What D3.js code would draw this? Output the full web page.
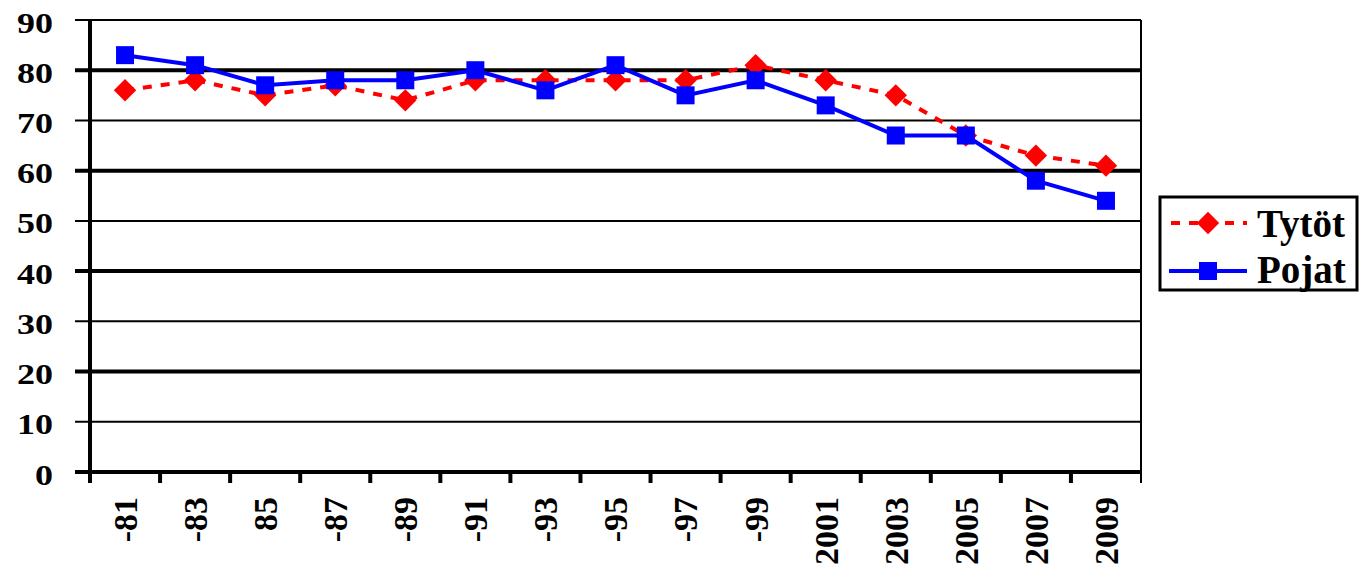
<!DOCTYPE html>
<html>
<head>
<meta charset="utf-8">
<script src="https://cdn.jsdelivr.net/npm/d3@7"></script>
<style>
	body { margin: 0; background: #fff; }
	svg text { font-weight: bold; fill: #000; }
</style>
</head>
<body>
<div id="graph"></div>
<script>
const years = ["-81", "-83", "85", "-87", "-89", "-91", "-93", "-95", "-97", "-99", "2001", "2003", "2005", "2007", "2009"];
const tytot = [76, 78, 75, 77, 74, 78, 78, 78, 78, 81, 78, 75, 67, 63, 61];
const pojat = [83, 81, 77, 78, 78, 80, 76, 81, 75, 78, 73, 67, 67, 58, 54];
const yTicks = [0, 10, 20, 30, 40, 50, 60, 70, 80, 90];

const margin = {top: 20, right: 218, bottom: 99, left: 90},
	width = 1359 - margin.left - margin.right,
	height = 571 - margin.top - margin.bottom;

const svg = d3.select("#graph")
	.append("svg")
	.attr("width", 1359)
	.attr("height", 571)
	.append("g")
	.attr("transform", "translate(" + margin.left + "," + margin.top + ")");

const xScale = d3.scaleBand()
	.domain(years)
	.range([0, width]);

const yScale = d3.scaleLinear()
	.domain([0, 90])
	.range([height, 0]);

const cx = (d, i) => xScale(years[i]) + xScale.bandwidth() / 2;
const serif = "'Times New Roman', 'Liberation Serif', Tinos, Times, serif";

// gridlines, every other one heavier
svg.selectAll(".grid")
	.data(yTicks)
	.enter().append("line")
	.attr("x1", -15)
	.attr("x2", width)
	.attr("y1", d => yScale(d))
	.attr("y2", d => yScale(d))
	.attr("stroke", "#000")
	.attr("stroke-width", d => (d % 20 === 0) ? 4 : 2);

// right border
svg.append("line")
	.attr("x1", width).attr("x2", width)
	.attr("y1", 0).attr("y2", height + 11)
	.attr("stroke", "#000")
	.attr("stroke-width", 2);

// y axis line
svg.append("line")
	.attr("x1", 0).attr("x2", 0)
	.attr("y1", 0).attr("y2", height + 11)
	.attr("stroke", "#000")
	.attr("stroke-width", 4);

// x ticks at band edges
svg.selectAll(".xtick")
	.data(years.slice(1))
	.enter().append("line")
	.attr("x1", d => xScale(d))
	.attr("x2", d => xScale(d))
	.attr("y1", height)
	.attr("y2", height + 11)
	.attr("stroke", "#000")
	.attr("stroke-width", 4);

// y labels
svg.selectAll(".ylab")
	.data(yTicks)
	.enter().append("text")
	.attr("transform", d => "translate(-37," + yScale(d) + ") scale(1.2,1)")
	.attr("text-anchor", "end")
	.attr("dy", "0.42em")
	.attr("font-family", serif)
	.style("font-size", "30px")
	.text(d => d);

// x labels, rotated
svg.selectAll(".xlab")
	.data(years)
	.enter().append("text")
	.attr("transform", d => "translate(" + (xScale(d) + xScale.bandwidth() / 2) + "," + (height + 25) + ") rotate(-90)")
	.attr("text-anchor", "end")
	.attr("dy", "0.35em")
	.attr("font-family", serif)
	.style("font-size", "34px")
	.text(d => d);

const line = d3.line()
	.x(cx)
	.y(d => yScale(d));

// Tytöt
svg.append("path")
	.datum(tytot)
	.attr("d", line)
	.attr("fill", "none")
	.attr("stroke", "#ff0000")
	.attr("stroke-width", 4)
	.attr("stroke-dasharray", "9,9");

svg.selectAll(".dia")
	.data(tytot)
	.enter().append("path")
	.attr("d", d3.symbol().type(d3.symbolDiamond2).size(320))
	.attr("transform", (d, i) => "translate(" + cx(d, i) + "," + yScale(d) + ")")
	.attr("fill", "#ff0000");

// Pojat
svg.append("path")
	.datum(pojat)
	.attr("d", line)
	.attr("fill", "none")
	.attr("stroke", "#0000ff")
	.attr("stroke-width", 4);

svg.selectAll(".sq")
	.data(pojat)
	.enter().append("rect")
	.attr("x", (d, i) => cx(d, i) - 9)
	.attr("y", d => yScale(d) - 9)
	.attr("width", 18)
	.attr("height", 18)
	.attr("fill", "#0000ff");

// legend
const legend = svg.append("g")
	.attr("transform", "translate(" + (width + 19) + ",177)");

legend.append("rect")
	.attr("x", 0).attr("y", 0)
	.attr("width", 197).attr("height", 93)
	.attr("fill", "#fff")
	.attr("stroke", "#000")
	.attr("stroke-width", 3);

legend.append("line")
	.attr("x1", 9).attr("x2", 87)
	.attr("y1", 26).attr("y2", 26)
	.attr("stroke", "#ff0000")
	.attr("stroke-width", 4)
	.attr("stroke-dasharray", "9,9")
	.attr("stroke-dashoffset", -2);

legend.append("path")
	.attr("d", d3.symbol().type(d3.symbolDiamond2).size(320))
	.attr("transform", "translate(48,26)")
	.attr("fill", "#ff0000");

legend.append("text")
	.attr("x", 97).attr("y", 40)
	.attr("font-family", serif)
	.style("font-size", "39px")
	.text("Tytöt");

legend.append("line")
	.attr("x1", 9).attr("x2", 87)
	.attr("y1", 74).attr("y2", 74)
	.attr("stroke", "#0000ff")
	.attr("stroke-width", 4);

legend.append("rect")
	.attr("x", 39).attr("y", 65)
	.attr("width", 18).attr("height", 18)
	.attr("fill", "#0000ff");

legend.append("text")
	.attr("x", 97).attr("y", 86)
	.attr("font-family", serif)
	.style("font-size", "39px")
	.text("Pojat");
</script>
</body>
</html>
